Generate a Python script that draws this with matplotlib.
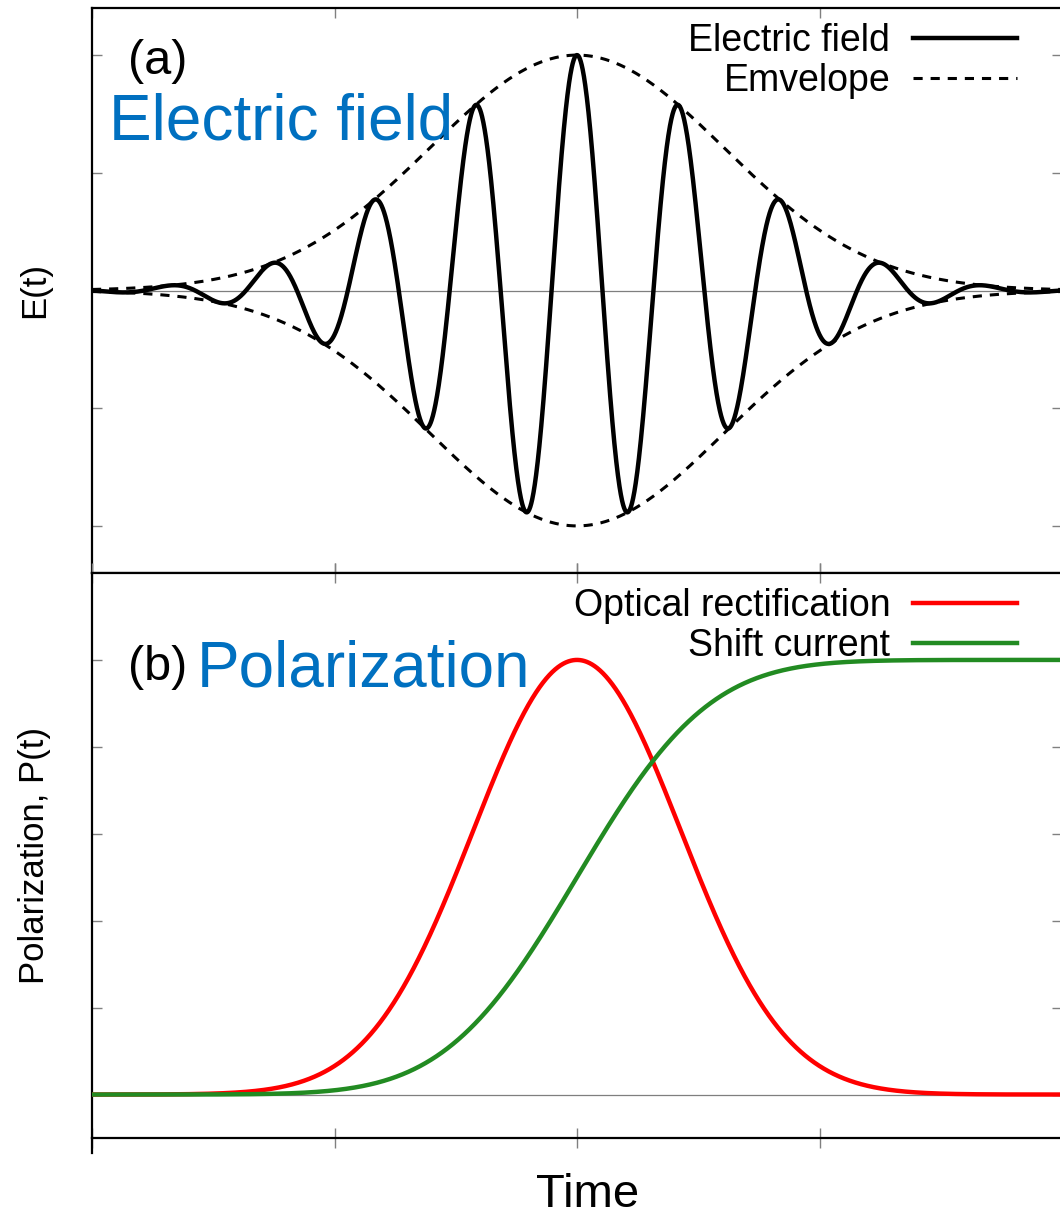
import math
import numpy as np
import matplotlib
matplotlib.use("Agg")
import matplotlib.pyplot as plt
from matplotlib.lines import Line2D

plt.rcParams['font.family'] = ['Liberation Sans', 'DejaVu Sans']

# ---- data ----
time_range = (-2.0, 2.0)          # x axis span (ticks every 1 unit, centre at 0)
pulse_center = 0.0                # centre of the pulse
envelope_sigma = 0.606            # Gaussian envelope width (std)
carrier_period = 0.42             # carrier oscillation period
field_amplitude = 1.0             # peak field
polarization_peak = 1.0           # peak of optical rectification / final shift current

e_yticks = [-1.0, -0.5, 0.0, 0.5, 1.0]
p_yticks = [0.0, 0.2, 0.4, 0.6, 0.8, 1.0]
x_ticks = [-2, -1, 0, 1, 2]

legend_a = ["Electric field", "Emvelope"]
legend_b = ["Optical rectification", "Shift current"]

# ---- curves ----
t = np.linspace(time_range[0], time_range[1], 3000)
tau = t - pulse_center
envelope = field_amplitude * np.exp(-tau**2 / (2 * envelope_sigma**2))
field = envelope * np.cos(2 * np.pi * tau / carrier_period)
optical_rect = polarization_peak * np.exp(-tau**2 / envelope_sigma**2)
erf_v = np.vectorize(math.erf)
shift_current = polarization_peak * 0.5 * (1 + erf_v(tau / envelope_sigma))

W, H = 1060, 1215
fig = plt.figure(figsize=(W / 100, H / 100), dpi=100)

def fx(px):
    return px / W

def fy(py):
    return 1 - py / H

left, right = 92, 1062
ax1 = fig.add_axes([fx(left), fy(573), fx(right - left), (573 - 8) / H])
ax2 = fig.add_axes([fx(left), fy(1138), fx(right - left), (1138 - 573) / H])

blue = '#0070C0'
tick_gray = '#808080'

for ax in (ax1, ax2):
    ax.set_xlim(*time_range)
    ax.set_xticks(x_ticks)
    ax.tick_params(which='both', direction='in', length=7.2, width=1.0,
                   color=tick_gray, top=True, right=True,
                   labelbottom=False, labelleft=False)
    for s in ax.spines.values():
        s.set_linewidth(1.6)
        s.set_color('black')
    ax.axhline(0, color='#7f7f7f', lw=0.9, zorder=1)

leg_kw = dict(loc='upper right', bbox_to_anchor=(0.9536, 0.973),
              frameon=False, markerfirst=False, fontsize=27, handlelength=2.77,
              handletextpad=0.61, labelspacing=0.09, borderpad=0, borderaxespad=0)

# ---- panel (a) ----
ax1.set_ylim(-1.2, 1.2)
ax1.set_yticks(e_yticks)
l1, = ax1.plot(t, field, color='black', lw=3.2, zorder=3)
l2, = ax1.plot(t, envelope, color='black', lw=2.2, ls=(0, (3.0, 2.6)), zorder=2)
ax1.plot(t, -envelope, color='black', lw=2.2, ls=(0, (3.0, 2.6)), zorder=2)
ax1.legend([l1, l2], legend_a, **leg_kw)
ax1.text(fx(128), fy(61), "(a)", transform=fig.transFigure, fontsize=35,
         ha='left', va='center')
ax1.text(fx(109), fy(140), "Electric field", transform=fig.transFigure,
         fontsize=46, color=blue, ha='left', va='baseline')
ax1.set_ylabel("E(t)", fontsize=25, va='center')
ax1.yaxis.set_label_coords((35 - left) / (right - left), 0.5)

# ---- panel (b) ----
ax2.set_ylim(-0.1, 1.2)
ax2.set_yticks(p_yticks)
r1, = ax2.plot(t, optical_rect, color='#FF0000', lw=3.2, zorder=3)
g1, = ax2.plot(t, shift_current, color='#228B22', lw=3.2, zorder=3)
ax2.legend([r1, g1], legend_b, **leg_kw)
ax2.text(fx(128), fy(668), "(b)", transform=fig.transFigure, fontsize=35,
         ha='left', va='center')
ax2.text(fx(197), fy(686), "Polarization", transform=fig.transFigure,
         fontsize=46, color=blue, ha='left', va='baseline')
ax2.set_ylabel("Polarization, P(t)", fontsize=25, va='center')
ax2.yaxis.set_label_coords((35 - left) / (right - left), 0.5)
ax2.tick_params(axis='x', which='both', bottom=True, direction='inout', length=14.4)

# left spine continues a little below the lower panel
fig.add_artist(Line2D([fx(left), fx(left)], [fy(1138), fy(1153)],
                      transform=fig.transFigure, color='black', lw=1.6))

fig.text(fx(588), fy(1195), "Time", fontsize=34, ha='center', va='center')

fig.savefig("out.png", dpi=100)
